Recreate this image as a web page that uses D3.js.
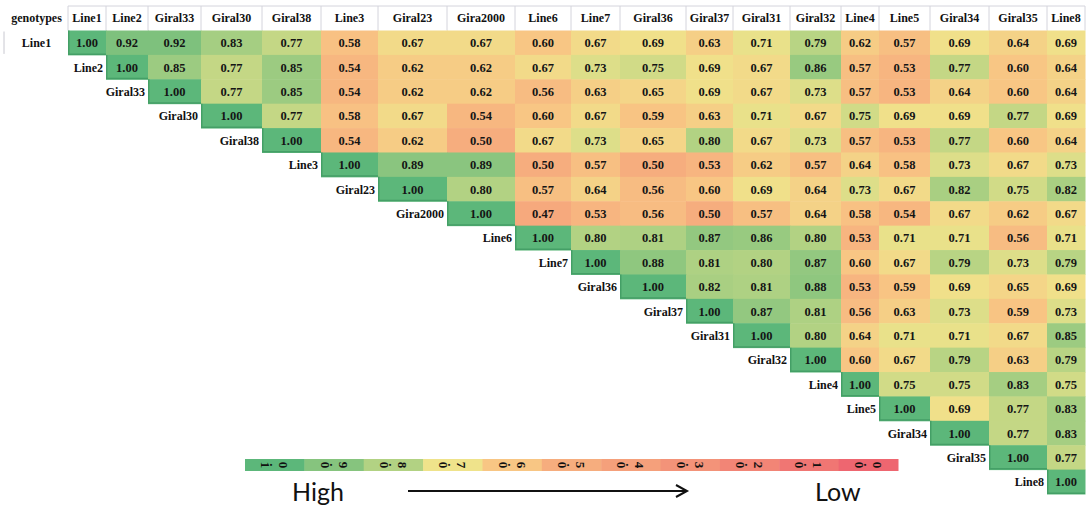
<!DOCTYPE html>
<html>
<head>
<meta charset="utf-8">
<script src="https://cdn.jsdelivr.net/npm/d3@7"></script>
<style>
  html, body { margin: 0; padding: 0; background: #fff; }
  svg { display: block; }
</style>
</head>
<body>
<svg id="chart" width="1086" height="508"></svg>
<script>
// ---- data -------------------------------------------------------------
const genotypes = ["Line1", "Line2", "Giral33", "Giral30", "Giral38", "Line3", "Giral23", "Gira2000",
  "Line6", "Line7", "Giral36", "Giral37", "Giral31", "Giral32", "Line4", "Line5", "Giral34", "Giral35", "Line8"];

// Similarity matrix, upper triangle: each row starts at its own diagonal cell
const similarityRows = [
  [1.00, 0.92, 0.92, 0.83, 0.77, 0.58, 0.67, 0.67, 0.60, 0.67, 0.69, 0.63, 0.71, 0.79, 0.62, 0.57, 0.69, 0.64, 0.69],
  [1.00, 0.85, 0.77, 0.85, 0.54, 0.62, 0.62, 0.67, 0.73, 0.75, 0.69, 0.67, 0.86, 0.57, 0.53, 0.77, 0.60, 0.64],
  [1.00, 0.77, 0.85, 0.54, 0.62, 0.62, 0.56, 0.63, 0.65, 0.69, 0.67, 0.73, 0.57, 0.53, 0.64, 0.60, 0.64],
  [1.00, 0.77, 0.58, 0.67, 0.54, 0.60, 0.67, 0.59, 0.63, 0.71, 0.67, 0.75, 0.69, 0.69, 0.77, 0.69],
  [1.00, 0.54, 0.62, 0.50, 0.67, 0.73, 0.65, 0.80, 0.67, 0.73, 0.57, 0.53, 0.77, 0.60, 0.64],
  [1.00, 0.89, 0.89, 0.50, 0.57, 0.50, 0.53, 0.62, 0.57, 0.64, 0.58, 0.73, 0.67, 0.73],
  [1.00, 0.80, 0.57, 0.64, 0.56, 0.60, 0.69, 0.64, 0.73, 0.67, 0.82, 0.75, 0.82],
  [1.00, 0.47, 0.53, 0.56, 0.50, 0.57, 0.64, 0.58, 0.54, 0.67, 0.62, 0.67],
  [1.00, 0.80, 0.81, 0.87, 0.86, 0.80, 0.53, 0.71, 0.71, 0.56, 0.71],
  [1.00, 0.88, 0.81, 0.80, 0.87, 0.60, 0.67, 0.79, 0.73, 0.79],
  [1.00, 0.82, 0.81, 0.88, 0.53, 0.59, 0.69, 0.65, 0.69],
  [1.00, 0.87, 0.81, 0.56, 0.63, 0.73, 0.59, 0.73],
  [1.00, 0.80, 0.64, 0.71, 0.71, 0.67, 0.85],
  [1.00, 0.60, 0.67, 0.79, 0.63, 0.79],
  [1.00, 0.75, 0.75, 0.83, 0.75],
  [1.00, 0.69, 0.77, 0.83],
  [1.00, 0.77, 0.83],
  [1.00, 0.77],
  [1.00]
];

const cornerLabel = "genotypes";
const legendTicks = [1.0, 0.9, 0.8, 0.7, 0.6, 0.5, 0.4, 0.3, 0.2, 0.1, 0.0];
const legendTickLabels = ["1.0", "0.9", "0.8", "0.7", "0.6", "0.5", "0.4", "0.3", "0.2", "0.1", "0.0"];
const legendHighText = "High";
const legendLowText = "Low";

// ---- layout & style ---------------------------------------------------
const colWidths = [63, 38, 42, 53, 61, 59, 57, 69, 68, 56, 49, 66, 47, 57, 51, 38, 51, 59, 58, 38]; // label column + 19 genotype columns
const legendColors = ["#5cb77a", "#86c47e", "#b2d283", "#efe38b", "#f8c684", "#f6ad7e",
  "#f5a07b", "#f39379", "#f28576", "#f07673", "#ee6670"];
const cellFont = "Liberation Serif, Tinos, Times New Roman, Times, FreeSerif, DejaVu Serif, serif";

const svg = d3.select("#chart");

// horizontal: cumulative column widths mapped onto the page
const colStart = [0];
colWidths.forEach(w => colStart.push(colStart[colStart.length - 1] + w));
const x = d3.scaleLinear().domain([0, d3.sum(colWidths)]).range([5, 1085]);
const colLeft = i => x(colStart[i]);
const colRight = i => x(colStart[i + 1]);

// vertical: one band per genotype row
const headerTop = 6, headerBottom = 30.5;
const y = d3.scaleBand().domain(genotypes).range([headerBottom, 494]).paddingInner(0);

// colour scale shared by the matrix and the legend bar
const color = d3.scaleLinear().domain(legendTicks).range(legendColors).interpolate(d3.interpolateRgb);

// ---- header ----------------------------------------------------------
const header = svg.append("g");
header.append("line")
  .attr("x1", colLeft(1)).attr("x2", colRight(genotypes.length))
  .attr("y1", headerTop).attr("y2", headerTop)
  .attr("stroke", "#d4d4dc").attr("stroke-width", 1);
header.selectAll("line.sep")
  .data(d3.range(1, genotypes.length + 2))
  .join("line")
  .attr("class", "sep")
  .attr("x1", i => x(colStart[i])).attr("x2", i => x(colStart[i]))
  .attr("y1", headerTop).attr("y2", headerBottom)
  .attr("stroke", "#d4d4dc").attr("stroke-width", 1);

header.append("text")
  .attr("x", (colLeft(0) + colRight(0)) / 2)
  .attr("y", (headerTop + headerBottom) / 2)
  .attr("text-anchor", "middle").attr("dominant-baseline", "central")
  .style("font-family", cellFont).attr("font-weight", "bold").attr("font-size", 12)
  .attr("fill", "#111").text(cornerLabel);

header.selectAll("text.col")
  .data(genotypes)
  .join("text")
  .attr("class", "col")
  .attr("x", (d, i) => (colLeft(i + 1) + colRight(i + 1)) / 2)
  .attr("y", (headerTop + headerBottom) / 2)
  .attr("text-anchor", "middle").attr("dominant-baseline", "central")
  .style("font-family", cellFont).attr("font-weight", "bold").attr("font-size", 12)
  .attr("fill", "#111").text(d => d);

// small border left of the first row label
svg.append("line")
  .attr("x1", 4).attr("x2", 4)
  .attr("y1", y(genotypes[0]) + 1).attr("y2", y(genotypes[0]) + y.bandwidth() - 1)
  .attr("stroke", "#c8c8d0").attr("stroke-width", 1);

// ---- matrix cells ----------------------------------------------------
const cells = [];
similarityRows.forEach((row, r) => {
  row.forEach((v, k) => cells.push({ row: r, col: r + k, value: v }));
});

const cellG = svg.append("g");
cellG.selectAll("rect")
  .data(cells)
  .join("rect")
  .attr("x", d => colLeft(d.col + 1))
  .attr("y", d => y(genotypes[d.row]))
  .attr("width", d => colRight(d.col + 1) - colLeft(d.col + 1) + 0.5)
  .attr("height", y.bandwidth() + 0.5)
  .attr("fill", d => color(d.value));

// darker edge on the lower-left of each diagonal cell
cellG.selectAll("path.diag")
  .data(cells.filter(d => d.row === d.col))
  .join("path")
  .attr("class", "diag")
  .attr("d", d => {
    const x0 = colLeft(d.col + 1) + 0.75, x1 = colRight(d.col + 1);
    const y0 = y(genotypes[d.row]), y1 = y0 + y.bandwidth() - 0.75;
    return `M${x0},${y0}L${x0},${y1}L${x1},${y1}`;
  })
  .attr("fill", "none").attr("stroke", "#3f9862").attr("stroke-width", 1.5).attr("opacity", 0.8);

cellG.selectAll("text")
  .data(cells)
  .join("text")
  .attr("x", d => (colLeft(d.col + 1) + colRight(d.col + 1)) / 2)
  .attr("y", d => y(genotypes[d.row]) + y.bandwidth() / 2 + 0.5)
  .attr("text-anchor", "middle").attr("dominant-baseline", "central")
  .style("font-family", cellFont).attr("font-weight", "bold").attr("font-size", 12.5)
  .attr("fill", "#151515")
  .text(d => d.value.toFixed(2));

// ---- row labels, just left of the diagonal --------------------------
svg.append("g").selectAll("text")
  .data(genotypes)
  .join("text")
  .attr("x", (d, i) => i === 0 ? (colLeft(0) + colRight(0)) / 2 : colLeft(i + 1) - 3)
  .attr("y", d => y(d) + y.bandwidth() / 2 + 0.5)
  .attr("text-anchor", (d, i) => i === 0 ? "middle" : "end")
  .attr("dominant-baseline", "central")
  .style("font-family", cellFont).attr("font-weight", "bold").attr("font-size", 12)
  .attr("fill", "#111").text(d => d);

// ---- legend bar --------------------------------------------------------
const lx = d3.scaleBand().domain(legendTicks).range([245, 898]).paddingInner(0);
const barTop = 459, barH = 12;
const legend = svg.append("g");
legend.selectAll("rect")
  .data(legendTicks)
  .join("rect")
  .attr("x", d => lx(d)).attr("y", barTop)
  .attr("width", lx.bandwidth() + 0.5).attr("height", barH)
  .attr("fill", d => color(d));

// sideways tick labels, one rotated glyph per character
legendTicks.forEach((t, i) => {
  const chars = legendTickLabels[i].split("");
  const cx = lx(t) + lx.bandwidth() / 2;
  const cy = barTop + barH / 2;
  const step = 9;
  chars.forEach((ch, j) => {
    const px = cx + (j - (chars.length - 1) / 2) * step;
    legend.append("text")
      .attr("x", px).attr("y", cy)
      .attr("transform", `rotate(90,${px},${cy})`)
      .attr("text-anchor", "middle").attr("dominant-baseline", "central")
      .style("font-family", cellFont).attr("font-weight", "bold").attr("font-size", 13)
      .attr("fill", "#111").text(ch);
  });
});

// High -> Low caption with arrow
const capFont = "Lato, 'Open Sans', sans-serif";
svg.append("text").attr("x", 292).attr("y", 501)
  .style("font-family", capFont).attr("font-size", 25).attr("fill", "#111").text(legendHighText);
svg.append("text").attr("x", 815).attr("y", 501)
  .style("font-family", capFont).attr("font-size", 25).attr("fill", "#111").text(legendLowText);

const arrowY = 491;
svg.append("line").attr("x1", 408).attr("x2", 687).attr("y1", arrowY).attr("y2", arrowY)
  .attr("stroke", "#111").attr("stroke-width", 2);
svg.append("path")
  .attr("d", `M676,${arrowY - 6}L687,${arrowY}L676,${arrowY + 6}`)
  .attr("fill", "none").attr("stroke", "#111").attr("stroke-width", 2);
</script>
</body>
</html>
